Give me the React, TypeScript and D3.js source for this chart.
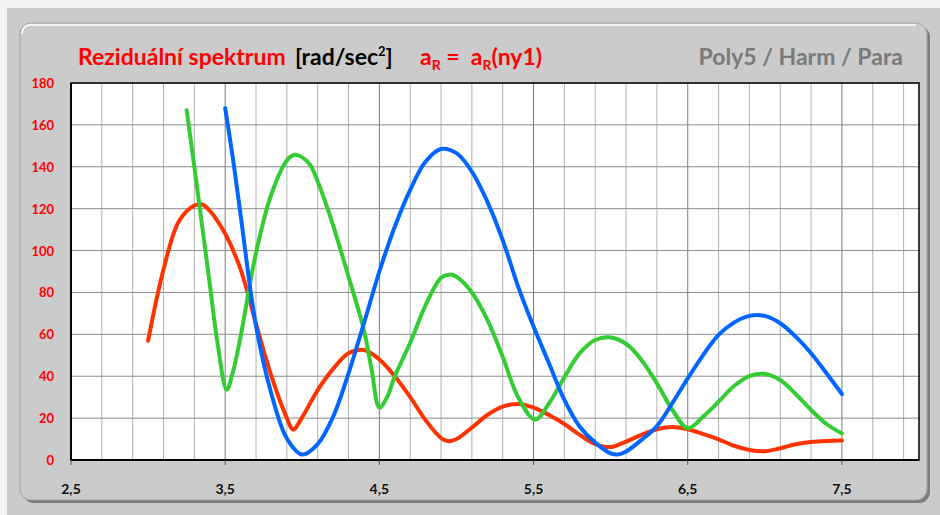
import React from "react";
import * as d3 from "d3";

// values
const redX = [3.0, 3.1, 3.2, 3.3, 3.35, 3.4, 3.5, 3.6, 3.7, 3.8, 3.9, 3.94, 4.0, 4.1, 4.2, 4.3, 4.4, 4.5, 4.6, 4.7, 4.8, 4.9, 4.95, 5.0, 5.1, 5.2, 5.3, 5.4, 5.5, 5.6, 5.7, 5.8, 5.9, 6.0, 6.1, 6.2, 6.3, 6.4, 6.5, 6.6, 6.7, 6.8, 6.9, 7.0, 7.1, 7.2, 7.3, 7.4, 7.5];
const redY = [57, 91, 114, 121.5, 122, 119, 108, 91, 65, 40, 20, 14.5, 20.5, 33.4, 43.5, 51, 52.5, 48, 40, 30, 19, 10.5, 9, 10, 15.5, 21.5, 25.5, 26.7, 25, 21.5, 17.2, 12, 7.6, 6.2, 8.8, 12, 14.7, 15.8, 14.7, 12.4, 9.9, 6.8, 4.8, 4.2, 5.6, 7.5, 8.6, 9.1, 9.3];

const greenX = [3.25, 3.3, 3.4, 3.45, 3.51, 3.55, 3.6, 3.7, 3.8, 3.9, 3.95, 4.0, 4.05, 4.1, 4.15, 4.2, 4.3, 4.4, 4.45, 4.5, 4.55, 4.6, 4.7, 4.8, 4.9, 4.95, 5.0, 5.1, 5.2, 5.3, 5.4, 5.51, 5.6, 5.7, 5.8, 5.9, 6.0, 6.1, 6.2, 6.3, 6.4, 6.5, 6.6, 6.7, 6.8, 6.9, 7.0, 7.1, 7.2, 7.3, 7.4, 7.5];
const greenY = [167, 140, 84, 56, 33.5, 42, 59, 99, 127, 143, 145.7, 144.5, 141, 133, 123, 112, 87.5, 62, 43, 25, 30, 40, 56, 74, 87, 88.5, 87.5, 80, 67, 49.3, 30, 19.3, 27, 39.5, 51, 57.3, 58.5, 55.5, 47.8, 36.6, 24, 15.2, 20.7, 27.8, 35.3, 40.1, 41.1, 38.2, 31.5, 23.9, 17.2, 12.7];

const blueX = [3.5, 3.55, 3.6, 3.7, 3.8, 3.9, 4.0, 4.1, 4.2, 4.3, 4.4, 4.5, 4.6, 4.7, 4.8, 4.9, 5.0, 5.1, 5.2, 5.3, 5.4, 5.5, 5.6, 5.7, 5.8, 5.9, 6.0, 6.05, 6.1, 6.2, 6.3, 6.4, 6.5, 6.6, 6.7, 6.8, 6.9, 7.0, 7.1, 7.2, 7.3, 7.4, 7.5];
const blueY = [168, 144, 117, 64, 31.5, 10.3, 2.6, 7.6, 20.7, 41.4, 65.3, 90, 111.4, 129, 142.5, 148.5, 146.5, 137.7, 123.4, 105, 82.8, 63.7, 46.2, 28.7, 15.9, 8.3, 3.2, 2.6, 4, 9.6, 16.2, 27.1, 39, 50.1, 59.7, 65.6, 68.8, 68.8, 65.3, 58.9, 51, 41.4, 31.5];

const xTicks = [2.5, 3.5, 4.5, 5.5, 6.5, 7.5];
const yTicks = [0, 20, 40, 60, 80, 100, 120, 140, 160, 180];

const W = 940;
const H = 515;
const left = 71, right = 919, top = 83, bottom = 460;

export default function App() {
  const x = d3.scaleLinear().domain([2.5, 8]).range([left, right]);
  const y = d3.scaleLinear().domain([0, 180]).range([bottom, top]);

  const line = d3
    .line<[number, number]>()
    .x((d) => x(d[0]))
    .y((d) => y(d[1]))
    .curve(d3.curveCatmullRom.alpha(0.5));

  const series = [
    { xs: redX, ys: redY, color: "#ff3300" },
    { xs: greenX, ys: greenY, color: "#33cc33" },
    { xs: blueX, ys: blueY, color: "#0066ff" },
  ];

  // grid every 0.2 along x
  const xGrid = d3.range(0, 28).map((i) => 2.5 + i * 0.2);
  const fmt = (v: number) => v.toFixed(1).replace(".", ",");
  const font = "Lato, sans-serif";

  return (
    <div style={{ position: "absolute", left: 0, top: 0 }}>
      <svg width={W} height={H} style={{ display: "block" }}>
        <rect width={W} height={H} fill="#f4f4f4" />
        <rect x={7} y={8} width={W - 7} height={H - 8} fill="#cbcbcb" />
        {/* frame */}
        <rect x={23} y={26} width={907} height={477} rx={11} fill="#7d7d7d" />
        <rect x={20} y={23} width={907} height={477} rx={11} fill="#cbcbcb" stroke="#a5a5a5" strokeWidth={1} />
        <path d="M 22 34 Q 22 25 31 25 L 916 25" fill="none" stroke="#ffffff" strokeWidth={1.5} />

        {/* title */}
        <text y={65} fontFamily={font} fontWeight="bold" fontSize={23} style={{ whiteSpace: "pre" }}>
          <tspan x={78} fill="#ff0000">Reziduální spektrum</tspan>
          <tspan x={295} fill="#000000">[rad/sec</tspan>
          <tspan fill="#000000" fontSize={13} dy={-9}>2</tspan>
          <tspan fill="#000000" dy={9}>]</tspan>
          <tspan fill="#ff0000" x={420}>a</tspan>
          <tspan fill="#ff0000" fontSize={14} dy={5}>R</tspan>
          <tspan fill="#ff0000" dy={-5}>{" =  a"}</tspan>
          <tspan fill="#ff0000" fontSize={14} dy={5}>R</tspan>
          <tspan fill="#ff0000" dy={-5}>(ny1)</tspan>
        </text>
        <text x={903} y={65} textAnchor="end" fontFamily={font} fontWeight="bold" fontSize={23} fill="#7a7a7a">
          Poly5 / Harm / Para
        </text>

        {/* plot */}
        <rect x={left} y={top} width={right - left} height={bottom - top} fill="#ffffff" />
        {xGrid.map((v, i) => (
          <line
            key={"gx" + i}
            x1={x(v)}
            x2={x(v)}
            y1={top}
            y2={bottom}
            stroke={i % 5 === 0 ? "#7a7a7a" : "#b0b0b0"}
            strokeWidth={1}
          />
        ))}
        {yTicks.map((v) => (
          <line key={"gy" + v} x1={left} x2={right} y1={y(v)} y2={y(v)} stroke="#8c8c8c" strokeWidth={1} />
        ))}
        <rect x={left} y={top} width={right - left} height={bottom - top} fill="none" stroke="#000" strokeWidth={1.5} />
        <line x1={left} x2={right} y1={bottom} y2={bottom} stroke="#000" strokeWidth={2} />
        <line x1={left} x2={left} y1={top} y2={bottom} stroke="#000" strokeWidth={2} />

        {series.map((s, i) => (
          <path
            key={i}
            d={line(s.xs.map((v, j) => [v, s.ys[j]] as [number, number])) || ""}
            fill="none"
            stroke={s.color}
            strokeWidth={4}
            strokeLinecap="round"
            strokeLinejoin="round"
          />
        ))}

        {/* axes labels */}
        {xTicks.map((v) => (
          <g key={"xt" + v}>
            <line x1={x(v)} x2={x(v)} y1={bottom} y2={bottom + 5} stroke="#555" strokeWidth={1} />
            <text x={x(v)} y={494} textAnchor="middle" fontFamily={font} fontWeight="bold" fontSize={14} fill="#111">
              {fmt(v)}
            </text>
          </g>
        ))}
        {yTicks.map((v) => (
          <text key={"yt" + v} x={54} y={y(v) + 5} textAnchor="end" fontFamily={font} fontWeight="bold" fontSize={13} fill="#ff0000">
            {v}
          </text>
        ))}
      </svg>
    </div>
  );
}
